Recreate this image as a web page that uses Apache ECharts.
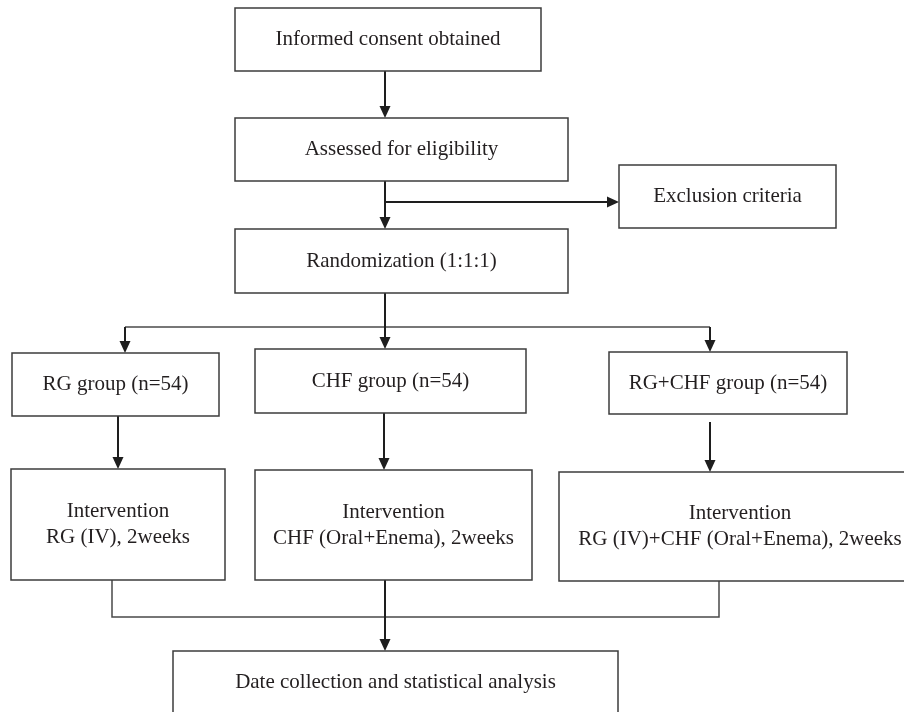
<!DOCTYPE html>
<html><head><meta charset="utf-8">
<script src="https://cdn.jsdelivr.net/npm/echarts@6/dist/echarts.min.js"></script>
<style>html,body{margin:0;padding:0;background:#fff}#c{width:904px;height:712px}</style>
</head><body><div id="c"></div>
<script>
// Box labels
const boxLabels = [
  'Informed consent obtained',
  'Assessed for eligibility',
  'Exclusion criteria',
  'Randomization (1:1:1)',
  'RG group (n=54)',
  'CHF group (n=54)',
  'RG+CHF group (n=54)',
  'Intervention\nRG (IV), 2weeks',
  'Intervention\nCHF (Oral+Enema), 2weeks',
  'Intervention\nRG (IV)+CHF (Oral+Enema), 2weeks',
  'Date collection and statistical analysis'
];
// Box extents in chart units (x: 0-904, y: 0-712 top-down)
const boxLeft   = [235, 235, 619, 235, 12, 255, 609, 11, 255, 559, 173];
const boxTop    = [8, 118, 165, 229, 353, 349, 352, 469, 470, 472, 651];
const boxRight  = [541, 568, 836, 568, 219, 526, 847, 225, 532, 921, 618];
const boxBottom = [71, 181, 228, 293, 416, 413, 414, 580, 580, 581, 714];
// Connectors ending with an arrowhead
const arrowPaths = [
  [[385, 71], [385, 118]],
  [[385, 181], [385, 229]],
  [[385, 202], [619, 202]],
  [[125, 327], [125, 353]],
  [[385, 293], [385, 349]],
  [[710, 327], [710, 352]],
  [[118, 416], [118, 469]],
  [[384, 413], [384, 470]],
  [[710, 422], [710, 472]],
  [[385, 580], [385, 651]]
];
// Connectors without arrowhead
const plainPaths = [
  [[125, 327], [710, 327]],
  [[112, 580], [112, 617], [719, 617], [719, 581]]
];

const FONT = '21px "Liberation Serif", "DejaVu Serif", serif';
const chart = echarts.init(document.getElementById('c'), null, {renderer: 'canvas'});

function renderBox(params, api) {
  const p1 = api.coord([api.value(0), api.value(1)]);
  const p2 = api.coord([api.value(2), api.value(3)]);
  const x = Math.min(p1[0], p2[0]), y = Math.min(p1[1], p2[1]);
  const w = Math.abs(p2[0] - p1[0]), h = Math.abs(p2[1] - p1[1]);
  return {
    type: 'group',
    children: [
      {type: 'rect', shape: {x: x, y: y, width: w, height: h},
       style: {fill: '#fff', stroke: '#3c3c3c', lineWidth: 1.5}},
      {type: 'text', x: x + w / 2, y: y + h / 2,
       style: {text: boxLabels[params.dataIndex], font: FONT, fill: '#231f20',
               align: 'center', verticalAlign: 'middle', lineHeight: 26}}
    ]
  };
}

function makePathRenderer(paths, withArrow, color, lw) {
  return function (params, api) {
    const pts = paths[params.dataIndex].map(function (p) { return api.coord(p); });
    const children = [];
    let linePts = pts.slice();
    if (withArrow) {
      const a = pts[pts.length - 2], b = pts[pts.length - 1];
      const dx = b[0] - a[0], dy = b[1] - a[1];
      const L = Math.sqrt(dx * dx + dy * dy);
      const ux = dx / L, uy = dy / L;
      const len = 12, half = 5.5;
      const base = [b[0] - ux * len, b[1] - uy * len];
      linePts[linePts.length - 1] = [b[0] - ux * (len - 2), b[1] - uy * (len - 2)];
      children.push({
        type: 'polygon',
        shape: {points: [b, [base[0] - uy * half, base[1] + ux * half], [base[0] + uy * half, base[1] - ux * half]]},
        style: {fill: color, stroke: null}
      });
    }
    children.unshift({type: 'polyline', shape: {points: linePts},
      style: {stroke: color, lineWidth: lw, fill: null}});
    return {type: 'group', children: children};
  };
}

chart.setOption({
  animation: false,
  backgroundColor: '#fff',
  grid: {left: 0, right: 0, top: 0, bottom: 0},
  xAxis: {type: 'value', min: 0, max: 904, show: false},
  yAxis: {type: 'value', min: 0, max: 712, inverse: true, show: false},
  series: [
    {type: 'custom', renderItem: makePathRenderer(plainPaths, false, '#4a4a4a', 1.5), clip: false,
     data: plainPaths.map(function (p) { return [p[0][0], p[0][1]]; }), silent: true, z: 1},
    {type: 'custom', renderItem: makePathRenderer(arrowPaths, true, '#1e1e1e', 2), clip: false,
     data: arrowPaths.map(function (p) { return [p[0][0], p[0][1]]; }), silent: true, z: 2},
    {type: 'custom', renderItem: renderBox, clip: false,
     data: boxLabels.map(function (t, i) { return [boxLeft[i], boxTop[i], boxRight[i], boxBottom[i]]; }),
     silent: true, z: 3}
  ]
});
</script></body></html>
